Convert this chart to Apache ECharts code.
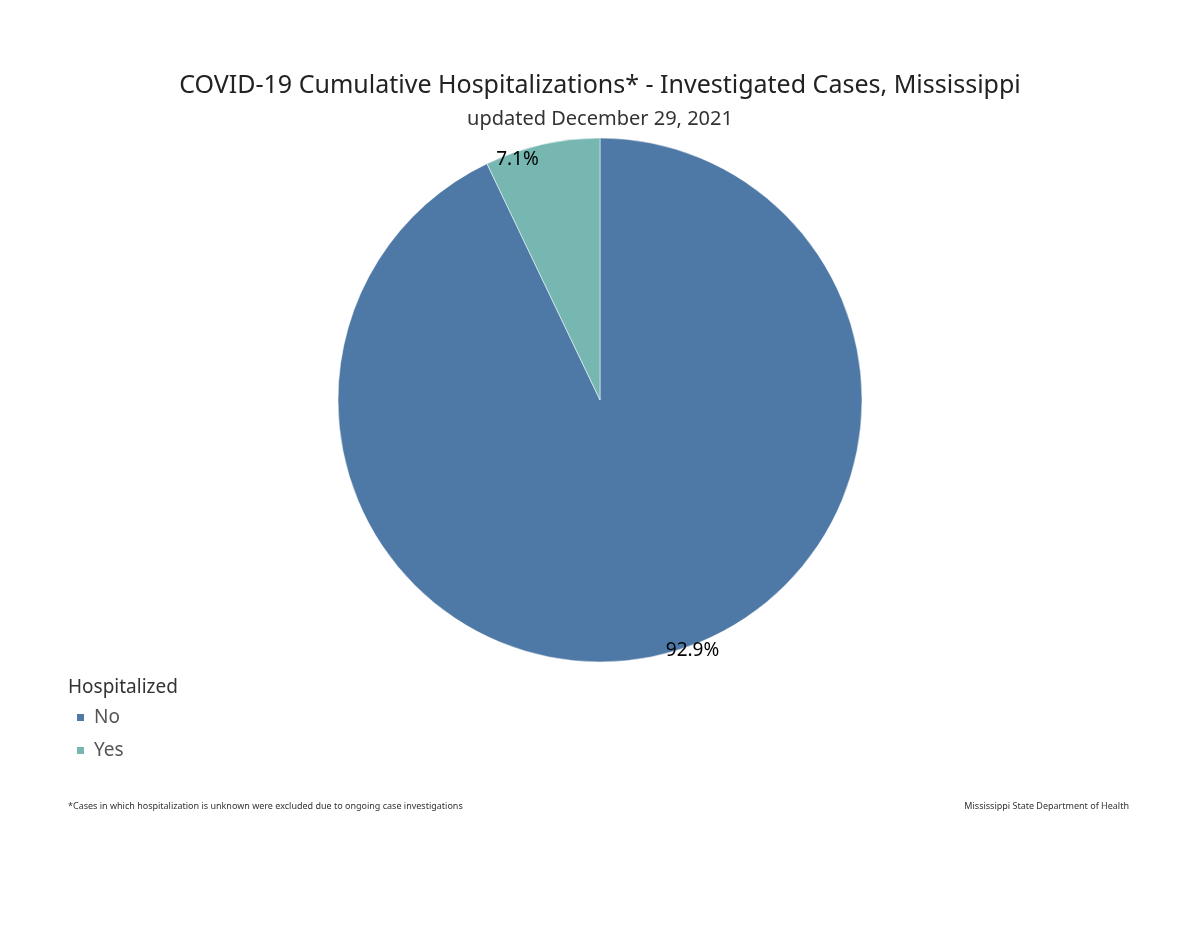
<!DOCTYPE html><html><head><meta charset="utf-8"><script src="https://cdn.jsdelivr.net/npm/echarts@6/dist/echarts.min.js"></script>
<style>html,body{margin:0;padding:0;background:#fff}#c{width:1200px;height:926px}</style></head><body><div id="c"></div><script>
const categories=['No','Yes'];
const values=[92.9,7.1];
const colors=['#4e79a7','#76b7b2'];
const F='Noto Sans';
const chart=echarts.init(document.getElementById('c'));
const data=categories.map((n,i)=>({name:n,value:values[i],itemStyle:{color:colors[i]}}));
chart.setOption({
animation:false,
title:[
{text:'COVID-19 Cumulative Hospitalizations* - Investigated Cases, Mississippi',left:'center',top:68,textStyle:{fontFamily:F,fontSize:25,fontWeight:'normal',color:'#222'}},
{text:'updated December 29, 2021',left:'center',top:104,textStyle:{fontFamily:F,fontSize:20,fontWeight:'normal',color:'#333'}},
{text:'Hospitalized',left:63,top:673,textStyle:{fontFamily:F,fontSize:19,fontWeight:'normal',color:'#333'}},
{text:'*Cases in which hospitalization is unknown were excluded due to ongoing case investigations',left:63,top:797,textStyle:{fontFamily:F,fontSize:9,fontWeight:'normal',color:'#333'}},
{text:'Mississippi State Department of Health',right:66,top:797,textStyle:{fontFamily:F,fontSize:9,fontWeight:'normal',color:'#333'}}
],
legend:{orient:'vertical',left:70,top:703,itemWidth:9,itemHeight:9,itemGap:14,icon:'rect',data:categories,textStyle:{fontFamily:F,fontSize:19,color:'#555',padding:[0,0,0,4]}},
series:[
{type:'pie',center:[600,400],radius:262,startAngle:90,clockwise:true,label:{show:false},labelLine:{show:false},itemStyle:{borderColor:'#fff',borderWidth:0.5},data:data},
{type:'pie',center:[600,400],radius:[225,262],startAngle:90,clockwise:true,silent:true,legendHoverLink:false,
 itemStyle:{color:'rgba(0,0,0,0)'},labelLine:{show:false},
 label:{show:true,position:'inside',formatter:p=>p.value.toFixed(1)+'%',fontFamily:F,fontSize:19,color:'#000'},
 data:categories.map((n,i)=>({name:n+' ',value:values[i],label:i===0?{offset:[38,10]}:{offset:[-28,0]}}))}
]});
</script></body></html>
